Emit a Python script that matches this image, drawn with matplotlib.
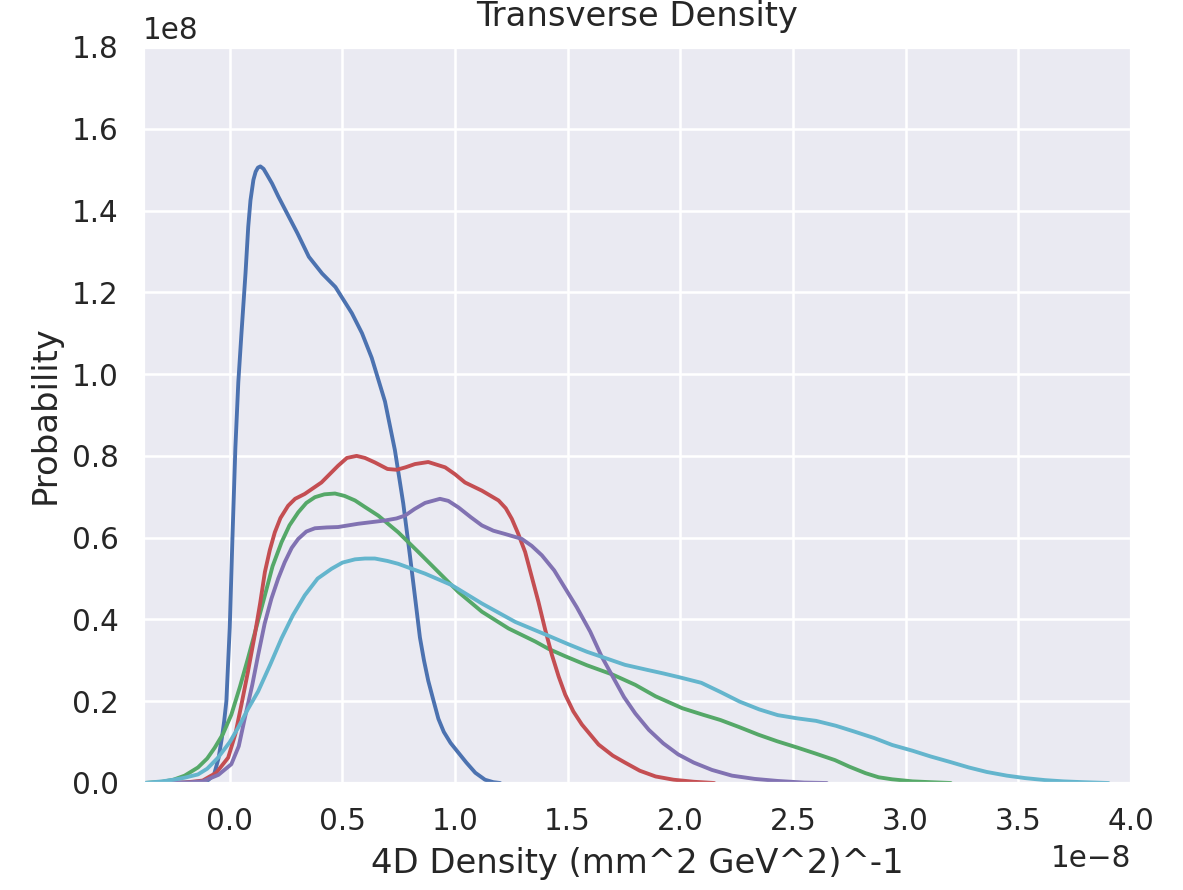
import numpy as np
import matplotlib
matplotlib.use("Agg")
import matplotlib.pyplot as plt
import seaborn as sns

# density curves, x in units of 1e-8 (mm^2 GeV^2)^-1, y in units of 1e8
x_blue = [-0.30, -0.15, -0.10, -0.07, -0.05, -0.035, -0.025, -0.015, 0.0, 0.012, 0.025, 0.038,
          0.052, 0.07, 0.082, 0.092, 0.105, 0.115, 0.125, 0.136, 0.15, 0.165, 0.188, 0.215,
          0.247, 0.30, 0.351, 0.41, 0.469, 0.542, 0.587, 0.63, 0.689, 0.733, 0.770, 0.80, 0.822,
          0.844, 0.862, 0.881, 0.905, 0.926, 0.95, 0.98, 1.015, 1.05, 1.09, 1.133, 1.17, 1.2]
y_blue = [0.0, 0.002, 0.005, 0.02, 0.06, 0.11, 0.15, 0.2, 0.38, 0.6, 0.82, 0.98,
          1.10, 1.247, 1.36, 1.425, 1.475, 1.495, 1.505, 1.508, 1.502, 1.488, 1.466, 1.435,
          1.401, 1.345, 1.287, 1.246, 1.213, 1.149, 1.10, 1.04, 0.933, 0.814, 0.684, 0.555, 0.456,
          0.356, 0.30, 0.25, 0.2, 0.157, 0.125, 0.098, 0.074, 0.05, 0.025, 0.008, 0.002, 0.0]

x_green = [-0.38, -0.30, -0.25, -0.2, -0.141, -0.1, -0.067, -0.03, 0.007, 0.045, 0.081, 0.12,
           0.156, 0.19, 0.230, 0.265, 0.304, 0.34, 0.378, 0.42, 0.467, 0.51, 0.556, 0.60, 0.659,
           0.748, 0.837, 0.926, 1.015, 1.119, 1.237, 1.356, 1.415, 1.489, 1.585, 1.70, 1.80,
           1.89, 2.008, 2.10, 2.178, 2.26, 2.347, 2.43, 2.517, 2.60, 2.686, 2.75, 2.822, 2.88,
           2.94, 3.03, 3.11, 3.2]
y_green = [0.0, 0.003, 0.008, 0.018, 0.038, 0.06, 0.086, 0.12, 0.167, 0.235, 0.305, 0.385,
           0.459, 0.53, 0.589, 0.63, 0.662, 0.685, 0.699, 0.706, 0.708, 0.702, 0.691, 0.675, 0.654,
           0.613, 0.565, 0.516, 0.467, 0.419, 0.378, 0.346, 0.328, 0.310, 0.288, 0.265, 0.24,
           0.212, 0.183, 0.167, 0.154, 0.137, 0.118, 0.102, 0.087, 0.072, 0.056, 0.04, 0.024, 0.014,
           0.009, 0.004, 0.002, 0.0]

x_red = [-0.30, -0.2, -0.12, -0.06, -0.007, 0.025, 0.052, 0.08, 0.111, 0.135, 0.156, 0.178, 0.2,
         0.225, 0.259, 0.29, 0.333, 0.407, 0.481, 0.52, 0.563, 0.60, 0.644, 0.70, 0.741, 0.78,
         0.822, 0.881, 0.956, 1.0, 1.044, 1.119, 1.193, 1.225, 1.252, 1.28, 1.311, 1.34, 1.37,
         1.40, 1.43, 1.46, 1.489, 1.525, 1.563, 1.637, 1.70, 1.754, 1.82, 1.89, 1.97, 2.06, 2.15]
y_red = [0.0, 0.001, 0.006, 0.025, 0.062, 0.12, 0.192, 0.27, 0.362, 0.44, 0.516, 0.57, 0.613,
         0.648, 0.678, 0.695, 0.707, 0.735, 0.776, 0.795, 0.80, 0.795, 0.784, 0.768, 0.766, 0.772,
         0.780, 0.785, 0.772, 0.755, 0.735, 0.715, 0.691, 0.672, 0.646, 0.61, 0.565, 0.505, 0.443,
         0.375, 0.313, 0.26, 0.216, 0.175, 0.143, 0.094, 0.067, 0.05, 0.03, 0.016, 0.008, 0.003, 0.0]

x_purple = [-0.30, -0.2, -0.12, -0.05, 0.007, 0.04, 0.067, 0.10, 0.126, 0.155, 0.185, 0.215,
            0.244, 0.275, 0.304, 0.34, 0.378, 0.43, 0.481, 0.57, 0.689, 0.74, 0.778, 0.82, 0.867,
            0.933, 0.97, 1.015, 1.07, 1.119, 1.17, 1.222, 1.296, 1.34, 1.385, 1.44, 1.489, 1.54,
            1.60, 1.65, 1.70, 1.75, 1.80, 1.86, 1.924, 1.99, 2.059, 2.14, 2.229, 2.33, 2.432,
            2.55, 2.65]
y_purple = [0.0, 0.001, 0.004, 0.02, 0.046, 0.09, 0.159, 0.24, 0.313, 0.39, 0.451, 0.50,
            0.54, 0.575, 0.597, 0.615, 0.623, 0.625, 0.626, 0.634, 0.642, 0.647, 0.654, 0.67, 0.685,
            0.695, 0.69, 0.674, 0.65, 0.63, 0.617, 0.609, 0.597, 0.58, 0.557, 0.52, 0.476, 0.43,
            0.37, 0.31, 0.26, 0.21, 0.17, 0.13, 0.097, 0.07, 0.05, 0.032, 0.018, 0.01, 0.005,
            0.001, 0.0]

x_cyan = [-0.38, -0.30, -0.25, -0.2, -0.141, -0.1, -0.052, 0.0, 0.037, 0.08, 0.126, 0.18, 0.230,
          0.28, 0.333, 0.39, 0.452, 0.50, 0.556, 0.60, 0.644, 0.70, 0.748, 0.867, 0.985, 1.119,
          1.267, 1.415, 1.50, 1.585, 1.67, 1.754, 1.85, 1.924, 2.00, 2.093, 2.18, 2.263, 2.35,
          2.432, 2.52, 2.602, 2.69, 2.771, 2.86, 2.94, 3.03, 3.11, 3.2, 3.28, 3.36, 3.449, 3.53,
          3.619, 3.70, 3.788, 3.9]
y_cyan = [0.0, 0.004, 0.008, 0.013, 0.021, 0.035, 0.062, 0.10, 0.135, 0.18, 0.224, 0.29, 0.354,
          0.41, 0.459, 0.50, 0.524, 0.539, 0.547, 0.549, 0.549, 0.543, 0.536, 0.512, 0.484, 0.439,
          0.394, 0.36, 0.34, 0.321, 0.305, 0.289, 0.277, 0.268, 0.258, 0.245, 0.222, 0.199, 0.18,
          0.166, 0.158, 0.152, 0.14, 0.126, 0.11, 0.093, 0.079, 0.065, 0.051, 0.038, 0.027, 0.018,
          0.012, 0.007, 0.004, 0.002, 0.0]

xscale = 1e-8
yscale = 1e8

sns.set_theme(style="darkgrid")
plt.rcParams['font.family'] = ['DejaVu Sans']
plt.rcParams['xtick.labelsize'] = 11.5
plt.rcParams['ytick.labelsize'] = 11.5
plt.rcParams['axes.labelsize'] = 13.2
plt.rcParams['axes.titlesize'] = 13.2

fig = plt.figure(figsize=(1183 / 185, 890 / 185), dpi=185)
ax = fig.add_axes([143 / 1183, 1 - 783 / 890, (1131 - 143) / 1183, (783 - 47) / 890])

curves = [(x_blue, y_blue, "#4C72B0"),
          (x_green, y_green, "#55A868"),
          (x_red, y_red, "#C44E52"),
          (x_purple, y_purple, "#8172B2"),
          (x_cyan, y_cyan, "#64B5CD")]
for xs, ys, c in curves:
    ax.plot(np.array(xs) * xscale, np.array(ys) * yscale, color=c, lw=1.5)

ax.set_xlim(-0.385 * xscale, 4.0 * xscale)
ax.set_ylim(0, 1.8 * yscale)
ax.set_xticks(np.arange(0, 4.01, 0.5) * xscale)
ax.set_yticks(np.arange(0, 1.81, 0.2) * yscale)
ax.set_title("Transverse Density", pad=8)
ax.set_xlabel("4D Density (mm^2 GeV^2)^-1")
ax.set_ylabel("Probability")

fig.savefig("out.png", dpi=185)
